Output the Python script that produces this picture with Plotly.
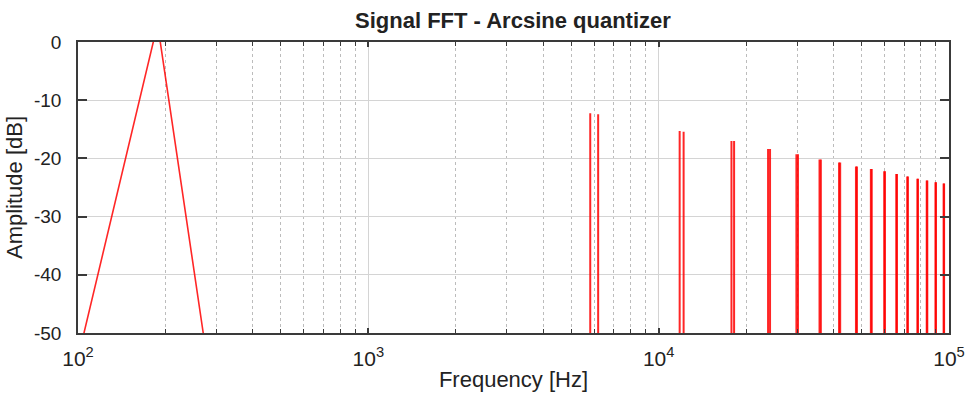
import plotly.graph_objects as go

# ---------------- data ----------------
# fundamental (approx. 188 Hz tone) as seen in the FFT
fund_freq = [100, 188, 270]
fund_amp = [-54.3, 3.1, -50]

# spurious components around multiples of 6 kHz (lower / upper sidebands)
harmonic_centers = [6000, 12000, 18000, 24000, 30000, 36000, 42000, 48000,
                    54000, 60000, 66000, 72000, 78000, 84000, 90000, 96000]
sideband_offset = 188
lower_peaks = [-12.25, -15.3, -17.0, -18.4, -19.3, -20.2, -20.7, -21.4,
               -21.8, -22.2, -22.7, -23.1, -23.5, -23.8, -24.1, -24.3]
upper_peaks = [-12.4, -15.4, -17.0, -18.4, -19.3, -20.2, -20.7, -21.4,
               -21.8, -22.2, -22.7, -23.1, -23.5, -23.8, -24.1, -24.3]
noise_floor = -80

x_tickvals = [100, 1000, 10000, 100000]
x_ticktext = ["10<sup>2</sup>", "10<sup>3</sup>", "10<sup>4</sup>", "10<sup>5</sup>"]
y_tickvals = [0, -10, -20, -30, -40, -50]
y_ticktext = ["0", "-10", "-20", "-30", "-40", "-50"]

# ---------------- build spike trace ----------------
sx, sy = [], []
for c, lo, up in zip(harmonic_centers, lower_peaks, upper_peaks):
    for f, p in ((c - sideband_offset, lo), (c + sideband_offset, up)):
        sx += [f, f, None]
        sy += [noise_floor, p, None]

RED = "rgba(255,0,0,0.85)"
fig = go.Figure()
fig.add_trace(go.Scatter(x=fund_freq, y=fund_amp, mode="lines",
                         line=dict(color=RED, width=1.6), showlegend=False))
fig.add_trace(go.Scatter(x=sx, y=sy, mode="lines",
                         line=dict(color=RED, width=2.0), showlegend=False))

FONT = "Liberation Sans, Arial, sans-serif"
AX = "#3a3a3a"
fig.update_layout(
    width=966, height=397,
    margin=dict(l=78, r=17, t=42, b=64),
    paper_bgcolor="white", plot_bgcolor="white",
    font=dict(family=FONT, size=21, color="#222"),
    title=dict(text="<b>Signal FFT - Arcsine quantizer</b>", x=0.531, xanchor="center",
               y=0.948, yanchor="middle", font=dict(size=22, color="#222")),
    showlegend=False,
)
fig.update_xaxes(
    type="log", range=[2, 5], automargin=False,
    tickvals=x_tickvals, ticktext=x_ticktext,
    ticks="inside", ticklen=5, tickwidth=1.5, tickcolor=AX,
    ticklabelstandoff=6,
    showline=True, linecolor=AX, linewidth=1.6, mirror="ticks",
    showgrid=True, gridcolor="#d4d4d4", gridwidth=1,
    minor=dict(dtick="D1", ticks="inside", ticklen=4, tickcolor=AX, tickwidth=1.3,
               showgrid=True, gridcolor="#bcbcbc", griddash="dot", gridwidth=1),
    title=dict(text="Frequency [Hz]", standoff=3, font=dict(size=22)),
    tickfont=dict(size=21), zeroline=False,
)
fig.update_yaxes(
    range=[-50, 0], tickvals=y_tickvals, ticktext=y_ticktext, automargin=False,
    ticks="inside", ticklen=9, tickwidth=1.5, tickcolor=AX,
    ticklabelstandoff=11,
    showline=True, linecolor=AX, linewidth=1.6, mirror="ticks",
    showgrid=True, gridcolor="#d4d4d4", gridwidth=1,
    title=dict(text="Amplitude [dB]", standoff=5, font=dict(size=22)),
    tickfont=dict(size=19), zeroline=False,
)

fig.write_html("out.html")
